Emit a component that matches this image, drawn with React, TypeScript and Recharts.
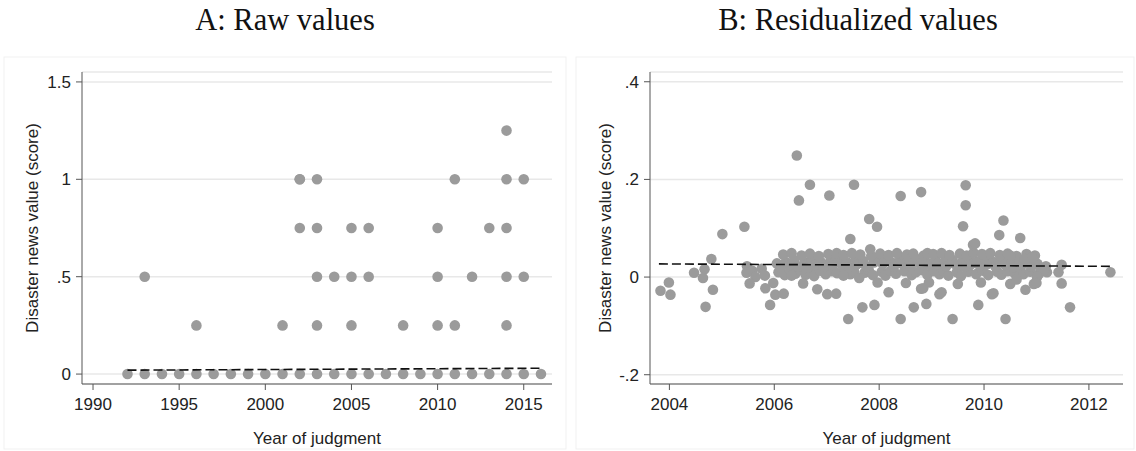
import React from "react";
import { ScatterChart, Scatter, XAxis, YAxis, CartesianGrid, Label } from "recharts";

// Panel A: raw scores by year of judgment
const rawZeroYears = [1992, 1993, 1994, 1995, 1996, 1997, 1998, 1999, 2000, 2001, 2002, 2003, 2004, 2005, 2006, 2007, 2008, 2009, 2010, 2011, 2012, 2013, 2014, 2015, 2016];
const rawQuarterYears = [1996, 2001, 2003, 2005, 2008, 2010, 2011, 2014];
const rawHalfYears = [1993, 2003, 2004, 2005, 2006, 2010, 2012, 2014, 2015];
const rawThreeQuarterYears = [2002, 2003, 2005, 2006, 2010, 2013, 2014];
const rawOneYears = [2002, 2002, 2003, 2011, 2014, 2015];
const rawOneQuarterYears = [2014];
const rawFit: [number, number][] = [[1992, 0.02], [2016, 0.03]];

const yearTicksA = [1990, 1995, 2000, 2005, 2010, 2015];
const scoreTicksA = [0, 0.5, 1, 1.5];

// Panel B: residualized scores, [year, residual]
const residOutliers: [number, number][] = [
  [2003.83, -0.028], [2003.99, -0.011], [2004.02, -0.036],
  [2004.47, 0.009], [2004.67, 0.016], [2004.64, -0.002], [2004.8, 0.037], [2004.83, -0.026], [2004.69, -0.061],
  [2005.01, 0.088], [2005.43, 0.103],
  [2005.48, 0.022], [2005.47, 0.009], [2005.58, 0.013], [2005.64, 0.0], [2005.53, -0.013], [2005.76, 0.017],
  [2005.82, 0.003], [2005.83, -0.023], [2005.92, -0.057], [2005.98, -0.012],
  [2006.02, -0.036], [2006.18, -0.034], [2006.33, 0.003], [2006.55, -0.013],
  [2006.43, 0.249], [2006.68, 0.189], [2006.47, 0.157], [2007.05, 0.167], [2007.52, 0.189],
  [2007.81, 0.119], [2007.96, 0.103], [2007.45, 0.078], [2007.83, 0.057],
  [2007.41, -0.086], [2007.68, -0.062], [2007.91, -0.057], [2006.82, -0.025], [2007.01, -0.035], [2007.18, -0.034],
  [2007.62, -0.002], [2007.32, 0.003], [2007.97, -0.011], [2008.18, -0.031],
  [2008.41, 0.166], [2008.8, 0.174], [2009.65, 0.188], [2009.65, 0.147], [2009.6, 0.104], [2009.79, 0.066],
  [2010.29, 0.086], [2010.37, 0.116], [2009.83, 0.069], [2010.69, 0.08],
  [2008.41, -0.086], [2008.66, -0.062], [2008.9, -0.055], [2009.4, -0.086], [2009.89, -0.057],
  [2008.8, -0.024], [2009.15, -0.035], [2010.15, -0.035], [2008.51, -0.012], [2008.95, -0.011],
  [2009.5, -0.014], [2009.94, -0.011], [2009.19, -0.031], [2008.84, -0.023], [2010.18, -0.033],
  [2010.5, 0.044], [2010.77, 0.037], [2010.92, 0.04], [2011.48, 0.025], [2011.42, 0.01], [2011.48, -0.013],
  [2011.64, -0.062], [2012.41, 0.01], [2010.79, -0.026], [2010.5, -0.014], [2010.95, -0.014], [2010.41, -0.086],
  [2011.14, 0.013], [2011.01, 0.0], [2010.62, -0.005], [2011.0, -0.012],
];

const residTopRow: [number, number][] = [
  [2006.17, 0.046], [2006.33, 0.049], [2006.52, 0.044], [2006.68, 0.048], [2006.85, 0.043], [2007.03, 0.047],
  [2007.19, 0.049], [2007.32, 0.045], [2007.48, 0.049], [2007.64, 0.046], [2007.85, 0.043], [2008.02, 0.048],
  [2008.18, 0.045], [2008.34, 0.049], [2008.53, 0.046], [2008.65, 0.048], [2008.85, 0.044], [2008.92, 0.049],
  [2009.03, 0.047], [2009.19, 0.049], [2009.34, 0.045], [2009.54, 0.048], [2009.67, 0.044], [2009.8, 0.05],
  [2009.96, 0.047], [2010.12, 0.049], [2010.3, 0.045], [2010.45, 0.048], [2010.62, 0.043], [2010.81, 0.047],
  [2010.97, 0.044],
];

const residMidRow: [number, number][] = [
  [2006.05, 0.028], [2006.12, 0.02], [2006.22, 0.031], [2006.28, 0.024], [2006.38, 0.034], [2006.45, 0.022],
  [2006.58, 0.03], [2006.63, 0.019], [2006.72, 0.035], [2006.78, 0.025], [2006.9, 0.03], [2006.95, 0.021],
  [2007.08, 0.033], [2007.12, 0.024], [2007.24, 0.037], [2007.28, 0.027], [2007.38, 0.031], [2007.43, 0.02],
  [2007.55, 0.036], [2007.58, 0.026], [2007.7, 0.033], [2007.75, 0.022], [2007.9, 0.03], [2007.95, 0.038],
  [2008.07, 0.027], [2008.1, 0.035], [2008.24, 0.03], [2008.28, 0.021], [2008.4, 0.036], [2008.45, 0.026],
  [2008.58, 0.032], [2008.6, 0.022], [2008.72, 0.037], [2008.78, 0.028], [2008.88, 0.033], [2008.97, 0.024],
  [2009.07, 0.036], [2009.1, 0.027], [2009.24, 0.031], [2009.28, 0.022], [2009.4, 0.035], [2009.45, 0.026],
  [2009.58, 0.03], [2009.62, 0.021], [2009.72, 0.036], [2009.76, 0.027], [2009.87, 0.032], [2009.92, 0.023],
  [2010.02, 0.035], [2010.06, 0.026], [2010.18, 0.031], [2010.22, 0.021], [2010.35, 0.034], [2010.4, 0.025],
  [2010.52, 0.03], [2010.56, 0.02], [2010.68, 0.033], [2010.72, 0.024], [2010.86, 0.03], [2010.9, 0.021],
  [2011.02, 0.027], [2011.08, 0.018], [2011.18, 0.022],
];

const residLowRow: [number, number][] = [
  [2006.08, 0.01], [2006.2, 0.004], [2006.3, 0.012], [2006.4, 0.007], [2006.5, 0.014], [2006.6, 0.005],
  [2006.7, 0.011], [2006.76, 0.002], [2006.88, 0.013], [2006.98, 0.006], [2007.1, 0.012], [2007.2, 0.008],
  [2007.35, 0.014], [2007.45, 0.006], [2007.52, 0.012], [2007.72, 0.009], [2007.8, 0.015], [2007.88, 0.004],
  [2008.05, 0.011], [2008.12, 0.003], [2008.22, 0.013], [2008.32, 0.007], [2008.48, 0.012], [2008.62, 0.004],
  [2008.7, 0.01], [2008.82, 0.014], [2008.92, 0.005], [2009.05, 0.012], [2009.15, 0.006], [2009.22, 0.014],
  [2009.32, 0.003], [2009.48, 0.01], [2009.56, 0.002], [2009.7, 0.011], [2009.85, 0.006], [2009.98, 0.013],
  [2010.08, 0.004], [2010.25, 0.011], [2010.33, 0.005], [2010.45, 0.012], [2010.58, 0.008], [2010.66, 0.014],
  [2010.75, 0.006], [2010.88, 0.011], [2011.05, 0.007], [2011.2, 0.01],
];

const residFit: [number, number][] = [[2003.8, 0.027], [2012.4, 0.022]];

const yearTicksB = [2004, 2006, 2008, 2010, 2012];
const scoreTicksB = [-0.2, 0, 0.2, 0.4];

const DOT = "#9b9b9b";
const AXIS = "#555555";
const SANS = "'Liberation Sans', Arial, sans-serif";

const toPoints = (pairs: [number, number][]) => pairs.map(([x, y]) => ({ x, y }));
const atLevel = (years: number[], level: number) => years.map((x) => ({ x, y: level }));

const rawPoints = [
  ...atLevel(rawZeroYears, 0),
  ...atLevel(rawQuarterYears, 0.25),
  ...atLevel(rawHalfYears, 0.5),
  ...atLevel(rawThreeQuarterYears, 0.75),
  ...atLevel(rawOneYears, 1),
  ...atLevel(rawOneQuarterYears, 1.25),
];
const residPoints = [...toPoints(residLowRow), ...toPoints(residMidRow), ...toPoints(residTopRow), ...toPoints(residOutliers)];

const fmtScore = (v: number) => (v === 0 ? "0" : String(v).replace("0.", "."));

const Dot = (props: any) => <circle cx={props.cx} cy={props.cy} r={5.3} fill={DOT} />;
const NoDot = () => <g />;

const tickStyle = { fontSize: 17, fill: "#222", fontFamily: SANS };

interface PanelProps {
  points: { x: number; y: number }[];
  fit: [number, number][];
  xDomain: [number, number];
  yDomain: [number, number];
  xTicks: number[];
  yTicks: number[];
  right: number;
  yLabelDx: number;
}

function Panel({ points, fit, xDomain, yDomain, xTicks, yTicks, right, yLabelDx }: PanelProps) {
  return (
    <ScatterChart width={568} height={451} margin={{ top: 72, right, bottom: 5, left: 0 }}>
      <CartesianGrid horizontal vertical={false} stroke="#e8e8e8" strokeWidth={1.5} />
      <XAxis
        type="number"
        dataKey="x"
        domain={xDomain}
        ticks={xTicks}
        allowDataOverflow
        height={62}
        tickSize={6}
        tickMargin={8}
        axisLine={{ stroke: AXIS }}
        tickLine={{ stroke: AXIS }}
        tick={tickStyle}
      >
        <Label value="Year of judgment" position="insideBottom" offset={2} style={{ fontSize: 17, fill: "#222", fontFamily: SANS }} />
      </XAxis>
      <YAxis
        type="number"
        dataKey="y"
        domain={yDomain}
        ticks={yTicks}
        allowDataOverflow
        width={82}
        tickSize={6}
        tickMargin={5}
        tickFormatter={fmtScore}
        axisLine={{ stroke: AXIS }}
        tickLine={{ stroke: AXIS }}
        tick={tickStyle}
      >
        <Label
          value="Disaster news value (score)"
          angle={-90}
          position="center"
          dx={yLabelDx}
          style={{ fontSize: 17, fill: "#222", fontFamily: SANS, textAnchor: "middle" }}
        />
      </YAxis>
      <Scatter data={points} shape={Dot} isAnimationActive={false} />
      <Scatter
        data={toPoints(fit)}
        shape={NoDot}
        line={{ stroke: "#111", strokeWidth: 1.6, strokeDasharray: "9 4" }}
        isAnimationActive={false}
      />
    </ScatterChart>
  );
}

export default function App() {
  return (
    <div style={{ position: "absolute", left: 0, top: 0, width: 1136, height: 451, background: "#fff" }}>
      <svg width={1136} height={451} style={{ position: "absolute", left: 0, top: 0 }}>
        <rect x={4} y={57} width={562} height={392} fill="none" stroke="#f1f1f1" />
        <rect x={576} y={57} width={558} height={392} fill="none" stroke="#f1f1f1" />
        <text x={285} y={30} textAnchor="middle" fontSize={30.5} fontFamily="'Liberation Serif', serif" fill="#111">
          A: Raw values
        </text>
        <text x={858} y={30} textAnchor="middle" fontSize={30.5} fontFamily="'Liberation Serif', serif" fill="#111">
          B: Residualized values
        </text>
      </svg>
      <div style={{ position: "absolute", left: 0, top: 0 }}>
        <Panel
          points={rawPoints}
          fit={rawFit}
          xDomain={[1989.36, 2016.64]}
          yDomain={[-0.051, 1.551]}
          xTicks={yearTicksA}
          yTicks={scoreTicksA}
          right={16}
          yLabelDx={-9}
        />
      </div>
      <div style={{ position: "absolute", left: 568, top: 0 }}>
        <Panel
          points={residPoints}
          fit={residFit}
          xDomain={[2003.63, 2012.65]}
          yDomain={[-0.219, 0.42]}
          xTicks={yearTicksB}
          yTicks={scoreTicksB}
          right={13}
          yLabelDx={-4}
        />
      </div>
    </div>
  );
}
